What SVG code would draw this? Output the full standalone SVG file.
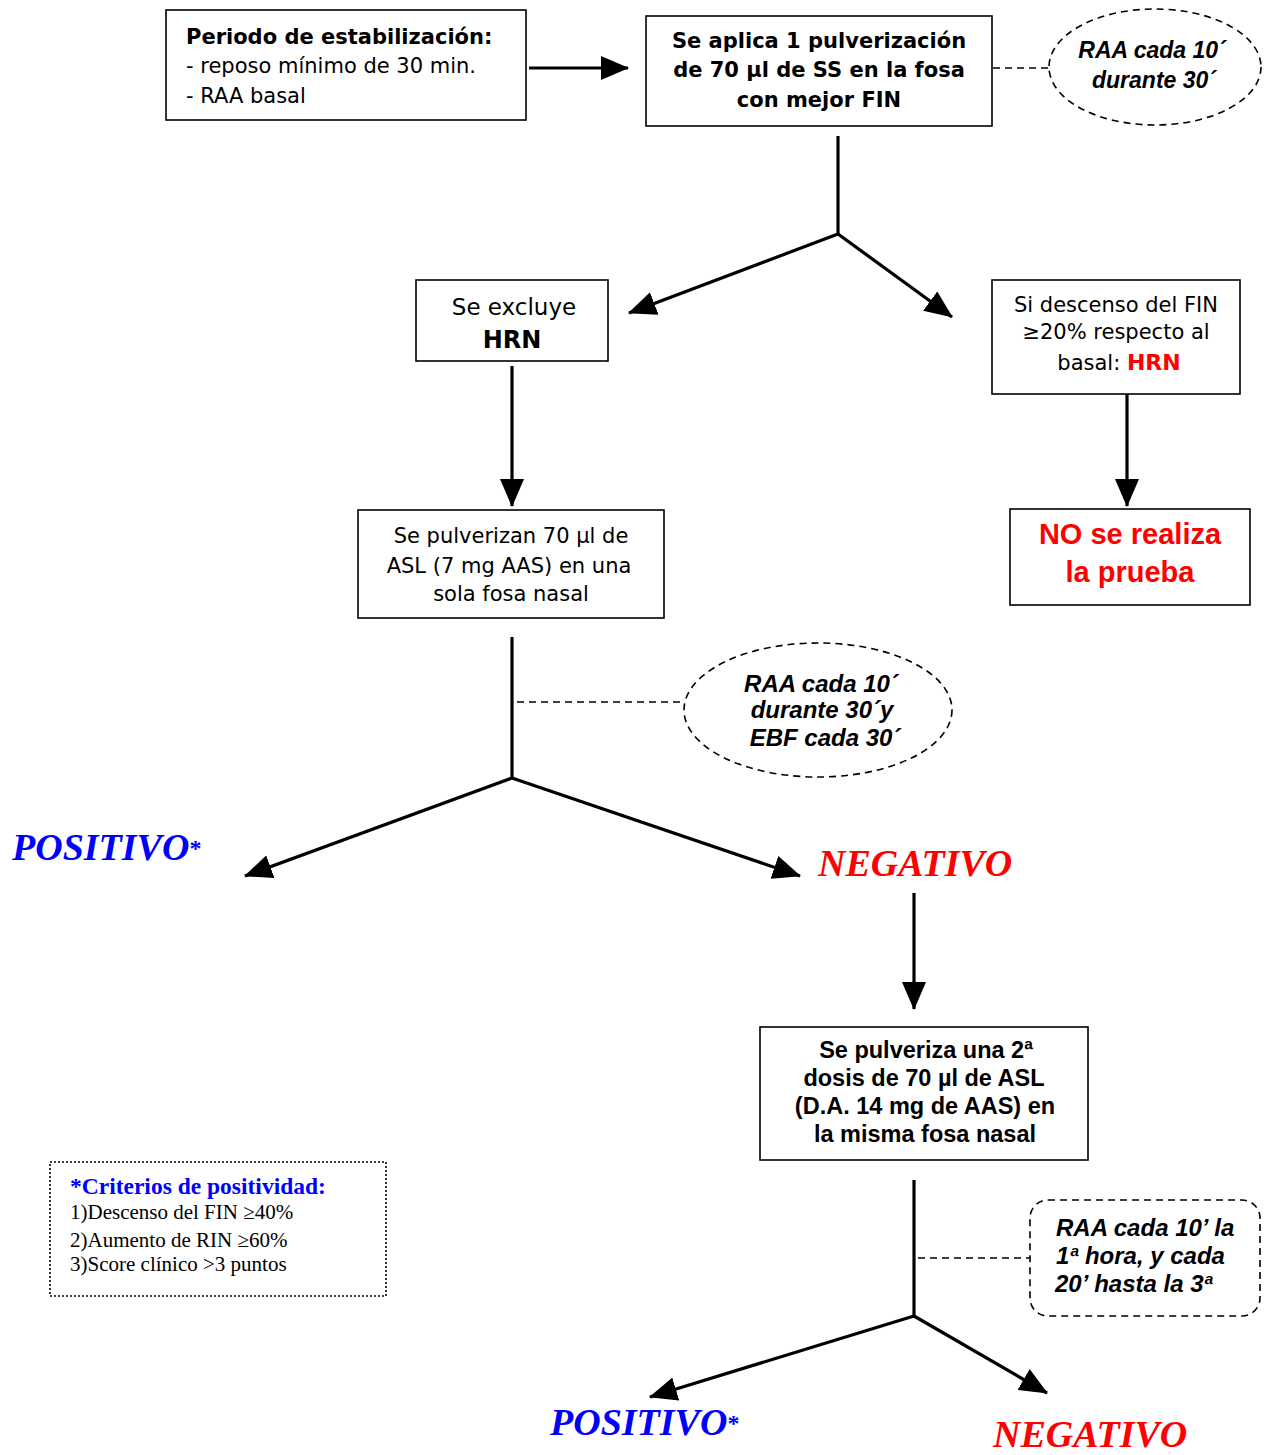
<svg xmlns="http://www.w3.org/2000/svg" width="1265" height="1455" viewBox="0 0 1265 1455">
<style>
.box{fill:#fff;stroke:#000;stroke-width:1.6}
.t{font-family:"DejaVu Sans",sans-serif;font-size:21px;fill:#000}
.b{font-weight:bold}
.c{text-anchor:middle}
.bi{font-family:"Liberation Sans",Arial,sans-serif;font-weight:bold;font-style:italic;font-size:24px;fill:#000}
.ar{font-family:"Liberation Sans",Arial,sans-serif;font-weight:bold;font-size:23.5px;fill:#000}
.red{fill:#ff0000}
.res{font-family:"Liberation Serif","Times New Roman",serif;font-weight:bold;font-style:italic;font-size:38px}
.ast{font-style:normal;font-size:24px}
.dash{fill:none;stroke:#000;stroke-width:1.6;stroke-dasharray:7,5}
.ln{fill:none;stroke:#000;stroke-width:3.2}
.tm{font-family:"Liberation Serif","Times New Roman",serif;font-size:21px;fill:#000}
</style>
<defs>
<marker id="ah" markerUnits="userSpaceOnUse" markerWidth="28" markerHeight="24" refX="27" refY="12" orient="auto" viewBox="0 0 28 24">
<path d="M0,0 L28,12 L0,24 z" fill="#000"/>
</marker>
</defs>
<rect width="1265" height="1455" fill="#fff"/>

<g id="connectors">
<line class="ln" x1="529" y1="68" x2="628" y2="68" marker-end="url(#ah)"/>
<line class="dash" x1="993" y1="68" x2="1049" y2="68"/>
<polyline class="ln" points="838,136 838,234"/>
<line class="ln" x1="838" y1="234" x2="629" y2="313" marker-end="url(#ah)"/>
<line class="ln" x1="838" y1="234" x2="952" y2="317" marker-end="url(#ah)"/>
<line class="ln" x1="512" y1="366" x2="512" y2="506" marker-end="url(#ah)"/>
<line class="ln" x1="1127" y1="394" x2="1127" y2="506" marker-end="url(#ah)"/>
<polyline class="ln" points="512,637 512,778"/>
<line class="dash" x1="517" y1="702" x2="685" y2="702"/>
<line class="ln" x1="512" y1="778" x2="245" y2="876" marker-end="url(#ah)"/>
<line class="ln" x1="512" y1="778" x2="800" y2="876" marker-end="url(#ah)"/>
<line class="ln" x1="914" y1="893" x2="914" y2="1009" marker-end="url(#ah)"/>
<polyline class="ln" points="914,1180 914,1316"/>
<line class="dash" x1="918" y1="1258" x2="1030" y2="1258"/>
<line class="ln" x1="914" y1="1316" x2="650" y2="1397" marker-end="url(#ah)"/>
<line class="ln" x1="914" y1="1316" x2="1047" y2="1393" marker-end="url(#ah)"/>
</g>

<g id="n-estabilizacion">
<rect class="box" x="166" y="10" width="360" height="110"/>
<text class="t b" x="186" y="44">Periodo de estabilización:</text>
<text class="t" x="186" y="73">- reposo mínimo de 30 min.</text>
<text class="t" x="186" y="103">- RAA basal</text>
</g>

<g id="n-aplica">
<rect class="box" x="646" y="16" width="346" height="110"/>
<text class="t b c" x="819" y="48">Se aplica 1 pulverización</text>
<text class="t b c" x="819" y="77">de 70 µl de SS en la fosa</text>
<text class="t b c" x="819" y="107">con mejor FIN</text>
</g>

<g id="n-raa1">
<ellipse class="dash" cx="1155" cy="67" rx="106" ry="58"/>
<text class="bi c" x="1152" y="58" style="font-size:23px">RAA cada 10´</text>
<text class="bi c" x="1154" y="88" style="font-size:23px">durante 30´</text>
</g>

<g id="n-excluye">
<rect class="box" x="416" y="280" width="192" height="81"/>
<text class="t c" x="514" y="315" style="font-size:23px">Se excluye</text>
<text class="t b c" x="512" y="348" style="font-size:24px">HRN</text>
</g>

<g id="n-descenso">
<rect class="box" x="992" y="280" width="248" height="114"/>
<text class="t c" x="1116" y="312">Si descenso del FIN</text>
<text class="t c" x="1116" y="339">≥20% respecto al</text>
<text class="t c" x="1119" y="370">basal: <tspan class="b red" style="font-size:22px">HRN</tspan></text>
</g>

<g id="n-no-realiza">
<rect class="box" x="1010" y="509" width="240" height="96"/>
<text class="ar c red" x="1130" y="544" style="font-size:29px">NO se realiza</text>
<text class="ar c red" x="1130" y="582" style="font-size:29px">la prueba</text>
</g>

<g id="n-pulverizan">
<rect class="box" x="358" y="510" width="306" height="108"/>
<text class="t c" x="511" y="543">Se pulverizan 70 µl de</text>
<text class="t c" x="509" y="573">ASL (7 mg AAS) en una</text>
<text class="t c" x="511" y="601">sola fosa nasal</text>
</g>

<g id="n-raa2">
<ellipse class="dash" cx="818" cy="710" rx="134" ry="67"/>
<text class="bi c" x="821" y="692">RAA cada 10´</text>
<text class="bi c" x="822" y="718">durante 30´y</text>
<text class="bi c" x="825" y="746">EBF cada 30´</text>
</g>

<g id="n-positivo1">
<text class="res" x="12" y="860" fill="#0000ff">POSITIVO<tspan class="ast" dy="-4">*</tspan></text>
</g>
<g id="n-negativo1">
<text class="res" x="818" y="876" fill="#ff0000">NEGATIVO</text>
</g>

<g id="n-segunda">
<rect class="box" x="760" y="1027" width="328" height="133"/>
<text class="ar c" x="926" y="1058">Se pulveriza una 2ª</text>
<text class="ar c" x="924" y="1086">dosis de 70 µl de ASL</text>
<text class="ar c" x="925" y="1114">(D.A. 14 mg de AAS) en</text>
<text class="ar c" x="925" y="1142">la misma fosa nasal</text>
</g>

<g id="n-criterios">
<rect x="50" y="1162" width="336" height="134" fill="none" stroke="#000" stroke-width="1.6" stroke-dasharray="2,2"/>
<text class="tm" x="70" y="1194" style="font-weight:bold;font-size:23.5px;fill:#0000ff">*Criterios de positividad:</text>
<text class="tm" x="70" y="1219">1)Descenso del FIN ≥40%</text>
<text class="tm" x="70" y="1247">2)Aumento de RIN ≥60%</text>
<text class="tm" x="70" y="1271">3)Score clínico &gt;3 puntos</text>
</g>

<g id="n-raa3">
<rect class="dash" x="1030" y="1200" width="230" height="116" rx="18"/>
<text class="bi" x="1056" y="1236">RAA cada 10’ la</text>
<text class="bi" x="1056" y="1264">1ª hora, y cada</text>
<text class="bi" x="1055" y="1292">20’ hasta la 3ª</text>
</g>

<g id="n-positivo2">
<text class="res" x="550" y="1435" fill="#0000ff">POSITIVO<tspan class="ast" dy="-4">*</tspan></text>
</g>
<g id="n-negativo2">
<text class="res" x="993" y="1447" fill="#ff0000">NEGATIVO</text>
</g>
</svg>
